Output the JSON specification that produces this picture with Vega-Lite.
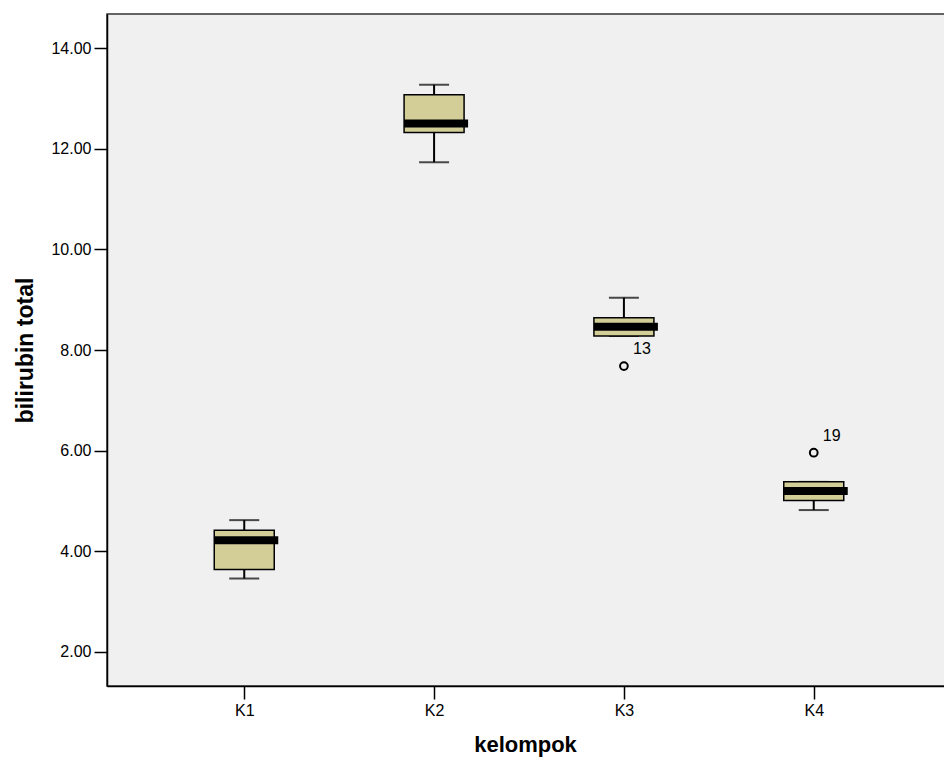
{
  "$schema": "https://vega.github.io/schema/vega-lite/v6.json",
  "autosize": {"type": "none"},
  "padding": {"left": 107, "top": 14, "right": 0, "bottom": 77},
  "width": 844,
  "height": 672,
  "background": "white",
  "config": {
    "view": {"fill": "#f0f0f0", "stroke": "#333333", "strokeWidth": 1.5},
    "font": "Liberation Sans",
    "axis": {
      "grid": false,
      "domainColor": "#000000",
      "domainWidth": 1.5,
      "tickColor": "#000000",
      "tickWidth": 1.5,
      "tickSize": 13,
      "labelPadding": 3,
      "labelColor": "#000000",
      "labelFont": "Liberation Sans",
      "labelFontSize": 16,
      "titleFont": "Liberation Sans",
      "titleFontSize": 22,
      "titleFontWeight": "bold",
      "titleColor": "#000000"
    }
  },
  "datasets": {
    "boxes": [
      {"kelompok": "K1", "lower": 3.46, "q1": 3.64, "median": 4.22, "q3": 4.42, "upper": 4.62},
      {"kelompok": "K2", "lower": 11.73, "q1": 12.32, "median": 12.50, "q3": 13.07, "upper": 13.27},
      {"kelompok": "K3", "lower": 8.28, "q1": 8.28, "median": 8.46, "q3": 8.64, "upper": 9.04},
      {"kelompok": "K4", "lower": 4.82, "q1": 5.01, "median": 5.20, "q3": 5.38, "upper": 5.38}
    ],
    "outliers": [
      {"kelompok": "K3", "value": 7.68, "case": "13"},
      {"kelompok": "K4", "value": 5.96, "case": "19"}
    ]
  },
  "encoding": {
    "x": {
      "field": "kelompok",
      "type": "ordinal",
      "scale": {"type": "point", "padding": 0.723, "domain": ["K1", "K2", "K3", "K4"]},
      "axis": {"title": "kelompok", "labelAngle": 0, "titleBaseline": "alphabetic", "titleY": 65, "titleX": 418, "titleAnchor": "middle", "titleAlign": "center"}
    }
  },
  "layer": [
    {
      "data": {"name": "boxes"},
      "mark": {"type": "rule", "color": "#000000", "strokeWidth": 2},
      "encoding": {
        "y": {
          "field": "lower",
          "type": "quantitative",
          "scale": {"domain": [1.3245, 14.6755], "nice": false, "zero": false},
          "axis": {
            "title": "bilirubin total",
            "values": [2, 4, 6, 8, 10, 12, 14],
            "format": ".2f",
            "titleFontSize": 23,
            "titleX": -82,
            "titleY": 336,
            "titleBaseline": "middle",
            "titleAngle": -90
          }
        },
        "y2": {"field": "q1"}
      }
    },
    {
      "data": {"name": "boxes"},
      "mark": {"type": "rule", "color": "#000000", "strokeWidth": 2},
      "encoding": {
        "y": {"field": "q3", "type": "quantitative"},
        "y2": {"field": "upper"}
      }
    },
    {
      "data": {"name": "boxes"},
      "mark": {"type": "tick", "color": "#000000", "size": 30, "thickness": 2, "orient": "horizontal"},
      "encoding": {"y": {"field": "lower", "type": "quantitative"}}
    },
    {
      "data": {"name": "boxes"},
      "mark": {"type": "tick", "color": "#000000", "size": 30, "thickness": 2, "orient": "horizontal"},
      "encoding": {"y": {"field": "upper", "type": "quantitative"}}
    },
    {
      "data": {"name": "boxes"},
      "mark": {"type": "bar", "width": 60, "fill": "#d3ce97", "stroke": "#000000", "strokeWidth": 1.5},
      "encoding": {
        "y": {"field": "q1", "type": "quantitative"},
        "y2": {"field": "q3"}
      }
    },
    {
      "data": {"name": "boxes"},
      "mark": {"type": "tick", "color": "#000000", "size": 64, "thickness": 8, "orient": "horizontal", "xOffset": 2, "opacity": 1},
      "encoding": {"y": {"field": "median", "type": "quantitative"}}
    },
    {
      "data": {"name": "outliers"},
      "mark": {"type": "point", "shape": "circle", "filled": false, "size": 60, "stroke": "#000000", "strokeWidth": 2, "opacity": 1},
      "encoding": {"y": {"field": "value", "type": "quantitative"}}
    },
    {
      "data": {"name": "outliers"},
      "mark": {"type": "text", "dx": 18, "dy": -17, "fontSize": 16, "font": "Liberation Sans", "color": "#000000", "align": "center", "baseline": "middle"},
      "encoding": {
        "y": {"field": "value", "type": "quantitative"},
        "text": {"field": "case"}
      }
    }
  ]
}
